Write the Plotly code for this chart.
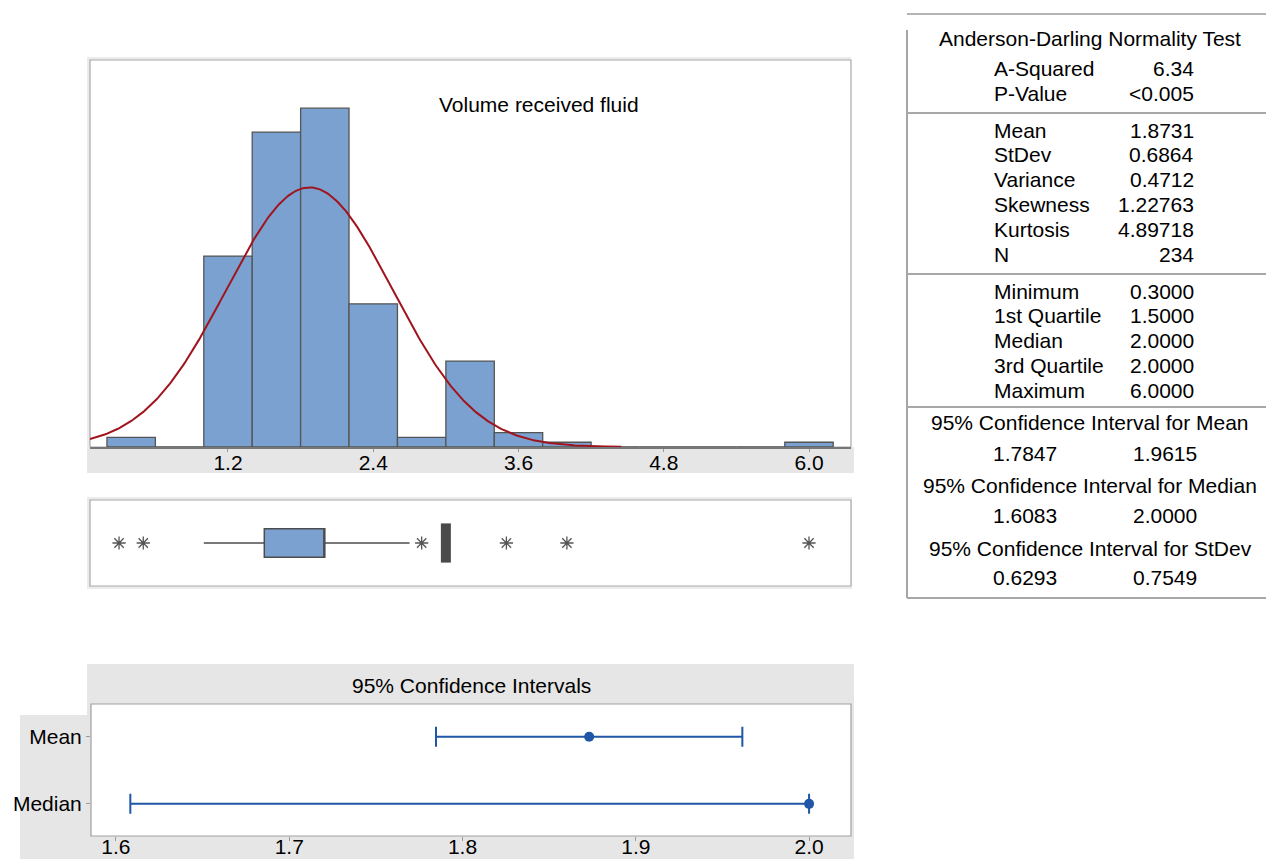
import numpy as np
import plotly.graph_objects as go

W, H = 1266, 859
FONT = "Liberation Sans, Arial, sans-serif"
FS = 21

# ---------------- data ----------------
# Histogram (bin centres, counts)
bin_centers = [0.4, 0.8, 1.2, 1.6, 2.0, 2.4, 2.8, 3.2, 3.6, 4.0, 4.4, 4.8, 5.2, 5.6, 6.0]
bin_counts = [2, 0, 40, 66, 71, 30, 2, 18, 3, 1, 0, 0, 0, 0, 1]
bin_width = 0.4
hist_ticks = [1.2, 2.4, 3.6, 4.8, 6.0]
hist_title = "Volume received fluid"

mean_val, sd_val, n_obs = 1.8731, 0.6864, 234

# Box plot
box_q1, box_median, box_q3 = 1.5, 2.0, 2.0
box_low, box_high = 1.0, 2.7
outliers = [0.3, 0.5, 2.8, 3.5, 4.0, 6.0]
tied_outliers = [3.0]

# Confidence interval panel
ci_labels = ["Mean", "Median"]
ci_center = [1.8731, 2.0]
ci_low = [1.7847, 1.6083]
ci_high = [1.9615, 2.0]
ci_ticks = [1.6, 1.7, 1.8, 1.9, 2.0]
ci_header = "95% Confidence Intervals"

# Summary panel
ad_title = "Anderson-Darling Normality Test"
ad_labels = ["A-Squared", "P-Value"]
ad_values = ["6.34", "<0.005"]
moment_labels = ["Mean", "StDev", "Variance", "Skewness", "Kurtosis", "N"]
moment_values = ["1.8731", "0.6864", "0.4712", "1.22763", "4.89718", "234"]
quant_labels = ["Minimum", "1st Quartile", "Median", "3rd Quartile", "Maximum"]
quant_values = ["0.3000", "1.5000", "2.0000", "2.0000", "6.0000"]
ci_titles = ["95% Confidence Interval for Mean",
             "95% Confidence Interval for Median",
             "95% Confidence Interval for StDev"]
ci_bounds_low = ["1.7847", "1.6083", "0.6293"]
ci_bounds_high = ["1.9615", "2.0000", "0.7549"]

# ---------------- helpers ----------------
def fx(px):
    return px / W

def fy(py):
    return 1 - py / H

BAR_FILL = "#7aa1cf"
EDGE = "#555555"
FRAME = "#a8a8a8"
BAND = "#e6e6e6"
CI_BLUE = "#1f56a6"

fig = go.Figure()

# histogram
fig.add_trace(go.Bar(x=bin_centers, y=bin_counts, width=bin_width,
                     marker=dict(color=BAR_FILL, line=dict(color=EDGE, width=1.3)),
                     xaxis="x", yaxis="y", showlegend=False, hoverinfo="skip"))

xc = np.linspace(0.06, 4.45, 400)
yc = n_obs * bin_width * np.exp(-0.5 * ((xc - mean_val) / sd_val) ** 2) / (sd_val * np.sqrt(2 * np.pi))
fig.add_trace(go.Scatter(x=xc, y=yc, mode="lines", line=dict(color="#a0141e", width=2),
                         xaxis="x", yaxis="y", showlegend=False, hoverinfo="skip"))

# box plot
fig.add_trace(go.Box(y=[0], q1=[box_q1], median=[box_median], q3=[box_q3],
                     lowerfence=[box_low], upperfence=[box_high], orientation="h",
                     width=1.0, whiskerwidth=0, boxpoints=False,
                     fillcolor=BAR_FILL, line=dict(color="#4d4d4d", width=1.5),
                     xaxis="x2", yaxis="y2", showlegend=False, hoverinfo="skip"))
fig.add_trace(go.Scatter(x=outliers, y=[0] * len(outliers), mode="markers",
                         marker=dict(symbol="asterisk-open", size=11, color="#555555",
                                     line=dict(color="#555555", width=1.3)),
                         xaxis="x2", yaxis="y2", showlegend=False, hoverinfo="skip"))
fig.add_trace(go.Scatter(x=tied_outliers, y=[0] * len(tied_outliers), mode="markers",
                         marker=dict(symbol="line-ns-open", size=28, color="#4a4a4a",
                                     line=dict(color="#4a4a4a", width=10)),
                         xaxis="x2", yaxis="y2", showlegend=False, hoverinfo="skip"))

# CI panel
ci_pos = [len(ci_labels) - 1 - i for i in range(len(ci_labels))]
fig.add_trace(go.Scatter(x=ci_center, y=ci_pos, mode="markers",
                         marker=dict(color=CI_BLUE, size=10),
                         error_x=dict(type="data", symmetric=False,
                                      array=[h - c for h, c in zip(ci_high, ci_center)],
                                      arrayminus=[c - l for c, l in zip(ci_center, ci_low)],
                                      color=CI_BLUE, thickness=2, width=10),
                         xaxis="x3", yaxis="y3", showlegend=False, hoverinfo="skip"))

# ---------------- shapes ----------------
shapes = []

def rect(x0, y0, x1, y1, fill=None, line=None, lw=1.2):
    shapes.append(dict(type="rect", xref="paper", yref="paper",
                       x0=fx(x0), x1=fx(x1), y0=fy(y1), y1=fy(y0),
                       fillcolor=fill if fill else "rgba(0,0,0,0)",
                       line=dict(color=line if line else "rgba(0,0,0,0)", width=lw if line else 0),
                       layer="below"))

def hline(x0, x1, y, color=FRAME, lw=2):
    shapes.append(dict(type="line", xref="paper", yref="paper",
                       x0=fx(x0), x1=fx(x1), y0=fy(y), y1=fy(y),
                       line=dict(color=color, width=lw), layer="below"))

def vline(x, y0, y1, color=FRAME, lw=2):
    shapes.append(dict(type="line", xref="paper", yref="paper",
                       x0=fx(x), x1=fx(x), y0=fy(y0), y1=fy(y1),
                       line=dict(color=color, width=lw), layer="below"))

# histogram panel
rect(87, 57, 851, 447, fill="#ececec")
rect(90, 60, 851, 447, fill="white", line=FRAME)
rect(87, 447, 854, 473, fill=BAND)
# box panel
rect(87, 497, 852, 589, fill="#ececec")
rect(90, 500, 851, 586, fill="white", line=FRAME)
# CI panel
rect(87, 664, 854, 859, fill=BAND)
rect(20, 715, 91, 859, fill=BAND)
rect(91, 704, 851, 836, fill="white", line="#a0a0a0")
# summary panel lines
hline(907, 1266, 14, color="#b4b4b4")
vline(907, 30, 598, color="#a6a6a6")
hline(907, 1266, 113)
hline(907, 1266, 274)
hline(907, 1266, 407)
hline(907, 1266, 598)

# ---------------- annotations ----------------
ann = []

def text(x, y, s, anchor="center"):
    ann.append(dict(x=fx(x), y=fy(y), xref="paper", yref="paper", text=s,
                    showarrow=False, xanchor=anchor, yanchor="middle",
                    font=dict(family=FONT, size=FS, color="black")))

text(539, 105, hist_title)
text(471, 685, ci_header)

LX, RX, CX = 992, 1196, 1090
text(CX, 38, ad_title)
for i, (l, v) in enumerate(zip(ad_labels, ad_values)):
    text(LX, 68 + 25 * i, l, "left")
    text(RX, 68 + 25 * i, v, "right")
for i, (l, v) in enumerate(zip(moment_labels, moment_values)):
    text(LX, 130 + 24.8 * i, l, "left")
    text(RX, 130 + 24.8 * i, v, "right")
for i, (l, v) in enumerate(zip(quant_labels, quant_values)):
    text(LX, 291 + 24.8 * i, l, "left")
    text(RX, 291 + 24.8 * i, v, "right")
for i, (t, lo, hi) in enumerate(zip(ci_titles, ci_bounds_low, ci_bounds_high)):
    text(CX, 422 + 63 * i, t)
    yb = [453, 515, 577][i]
    text(1025, yb, lo)
    text(1165, yb, hi)

x_range = [0.06, 6.347]
fig.update_layout(
    width=W, height=H, autosize=False,
    margin=dict(l=0, r=0, t=0, b=0, pad=0, autoexpand=False),
    paper_bgcolor="white", plot_bgcolor="rgba(0,0,0,0)",
    font=dict(family=FONT, size=FS, color="black"),
    bargap=0,
    shapes=shapes, annotations=ann,
    xaxis=dict(domain=[fx(90), fx(851)], range=x_range, anchor="y", automargin=False,
               tickvals=hist_ticks, ticktext=[f"{t:.1f}" for t in hist_ticks],
               ticks="outside", ticklen=3, tickcolor="#999999", ticklabelstandoff=-7,
               showline=True, linecolor="#777777", linewidth=2,
               showgrid=False, zeroline=False, tickfont=dict(size=FS)),
    yaxis=dict(domain=[fy(447), fy(60)], range=[0, 81.1], anchor="x", automargin=False,
               visible=False, showgrid=False, zeroline=False),
    xaxis2=dict(domain=[fx(90), fx(851)], range=x_range, anchor="y2", automargin=False,
                showticklabels=False, ticks="", showline=False,
                showgrid=False, zeroline=False),
    yaxis2=dict(domain=[fy(586), fy(500)], range=[-1.5, 1.5], anchor="x2", automargin=False,
                visible=False, showgrid=False, zeroline=False),
    xaxis3=dict(domain=[fx(91), fx(851)], range=[1.5856, 2.0242], anchor="y3", automargin=False,
                tickvals=ci_ticks, ticktext=[f"{t:.1f}" for t in ci_ticks],
                ticks="outside", ticklen=4, tickcolor="#999999", ticklabelstandoff=-12,
                showline=False, showgrid=False, zeroline=False,
                tickfont=dict(size=FS)),
    yaxis3=dict(domain=[fy(836), fy(704)], range=[-0.48, 1.49], anchor="x3", automargin=False,
                tickvals=ci_pos, ticktext=ci_labels,
                ticks="outside", ticklen=4, tickcolor="#999999",
                showline=False, showgrid=False, zeroline=False,
                tickfont=dict(size=FS)),
)

fig.write_html(
    "out.html",
    config={"displayModeBar": False, "staticPlot": True},
    post_script=("document.body.style.margin='0';"
                 "document.body.style.overflow='hidden';"),
)
